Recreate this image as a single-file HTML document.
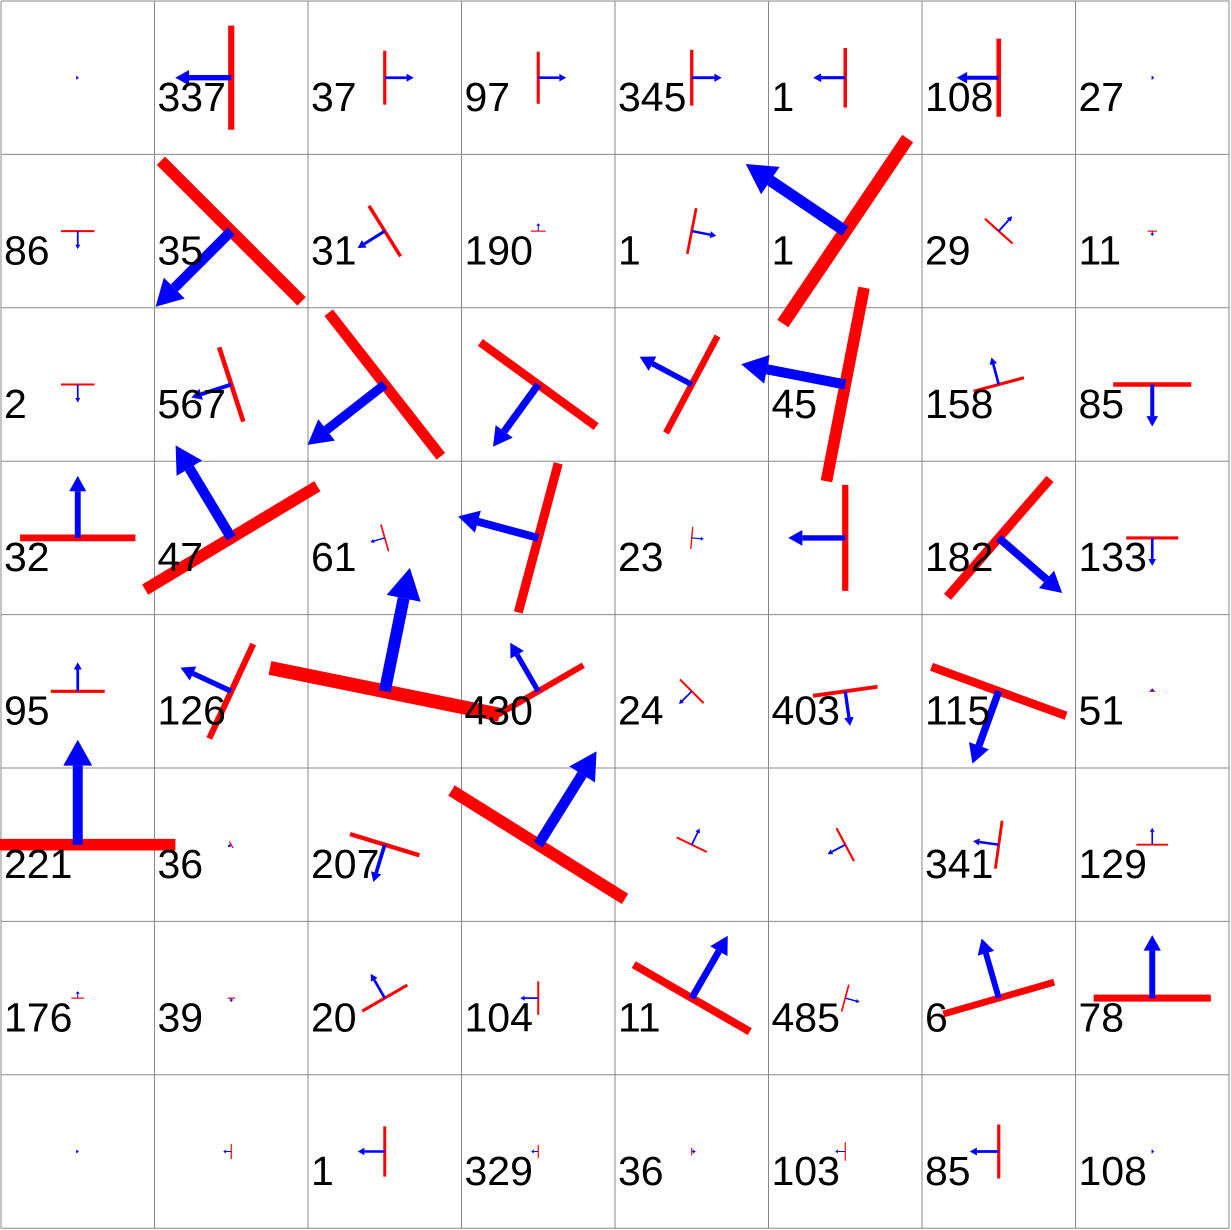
<!DOCTYPE html>
<html><head><meta charset="utf-8"><style>
html,body{margin:0;padding:0;background:#fff;}
svg{display:block;}
text{font-family:"Liberation Sans",sans-serif;font-size:41px;fill:#000;}
</style></head><body>
<svg id="chart" width="1231" height="1230" viewBox="0 0 1231 1230" xmlns="http://www.w3.org/2000/svg">
<g id="grid"></g>
<g id="glyphs"></g>
<g id="labels"></g>
</svg>
<script>
// arrow direction in degrees (math convention, y up), row-major 8x8
const angles = [
  0,180,0,0,0,180,180,0,
  -90,-135,-148,90,-11,146,48,-90,
  -90,-162,-142,-126,152,169,105,-90,
  90,121,-164,165,-5,180,-41,-90,
  90,155,78.5,120,-135,-82,-110,90,
  90,-150,-107,58,64,-152,172,90,
  90,-90,120,180,60,-15,106,90,
  0,180,180,180,0,180,180,0
];
// glyph magnitudes (arrow length units)
const magnitudes = [
  1,56,29,28,30,32,42,2,
  18,107,32,8,25,120,20,5,
  18,42,98,77,59,106,28,42,
  62,108,15,83,12,57,84,28,
  29,56,126,56,18,35,77,3,
  105,4,39,110,18,20,26,17,
  7,4,28,18,72,15,62,63,
  1,8,27,7,4,10,29,2
];
const labels = [
  "","337","37","97","345","1","108","27",
  "86","35","31","190","1","1","29","11",
  "2","567","","","","45","158","85",
  "32","47","61","","23","","182","133",
  "95","126","","430","24","403","115","51",
  "221","36","207","","","","341","129",
  "176","39","20","104","11","485","6","78",
  "","","1","329","36","103","85","108"
];
const NS="http://www.w3.org/2000/svg";
const X0=1, Y0=1, CW=153.5, CH=153.4, N=8;
const colX=i=>X0+CW*i, rowY=j=>Y0+CH*j;
const gGrid=document.getElementById('grid');
for(let i=0;i<=N;i++){
  const v=document.createElementNS(NS,'line');
  v.setAttribute('x1',colX(i));v.setAttribute('x2',colX(i));
  v.setAttribute('y1',Y0);v.setAttribute('y2',rowY(N));
  v.setAttribute('stroke','#888');v.setAttribute('stroke-width','1');
  
  
  gGrid.appendChild(v);
  const h=document.createElementNS(NS,'line');
  h.setAttribute('y1',rowY(i));h.setAttribute('y2',rowY(i));
  h.setAttribute('x1',X0);h.setAttribute('x2',colX(N));
  h.setAttribute('stroke','#888');h.setAttribute('stroke-width','1');
  
  
  gGrid.appendChild(h);
}
const gG=document.getElementById('glyphs'), gL=document.getElementById('labels');
for(let k=0;k<N*N;k++){
  const r=Math.floor(k/N), c=k%N;
  const cx=colX(c)+CW/2, cy=rowY(r)+CH/2;
  const m=magnitudes[k], a=angles[k]*Math.PI/180;
  const ux=Math.cos(a), uy=-Math.sin(a);
  const px=-uy, py=ux;
  const L=m*0.93, tr=Math.max(1.2,m*0.11), tb=Math.max(1,m*0.095);
  const red=document.createElementNS(NS,'line');
  red.setAttribute('x1',cx+px*L);red.setAttribute('y1',cy+py*L);
  red.setAttribute('x2',cx-px*L);red.setAttribute('y2',cy-py*L);
  red.setAttribute('stroke','#ff0000');red.setAttribute('stroke-width',tr);
  
  
  gG.appendChild(red);
  const hl=Math.max(2,tb*2.6), hw=Math.max(2,tb*1.45);
  const sx=cx+ux*(m-hl), sy=cy+uy*(m-hl);
  const shaft=document.createElementNS(NS,'line');
  shaft.setAttribute('x1',cx);shaft.setAttribute('y1',cy);
  shaft.setAttribute('x2',sx);shaft.setAttribute('y2',sy);
  shaft.setAttribute('stroke','#0000ff');shaft.setAttribute('stroke-width',tb);
  
  
  gG.appendChild(shaft);
  const head=document.createElementNS(NS,'polygon');
  const tx=cx+ux*m, ty=cy+uy*m;
  head.setAttribute('points',`${tx},${ty} ${sx+px*hw},${sy+py*hw} ${sx-px*hw},${sy-py*hw}`);
  head.setAttribute('fill','#0000ff');
  
  
  gG.appendChild(head);
  if(labels[k]){
    const t=document.createElementNS(NS,'text');
    t.setAttribute('x',colX(c)+3);t.setAttribute('y',rowY(r)+110);
    t.textContent=labels[k];
    
    
    gL.appendChild(t);
  }
}
</script>
</body></html>
